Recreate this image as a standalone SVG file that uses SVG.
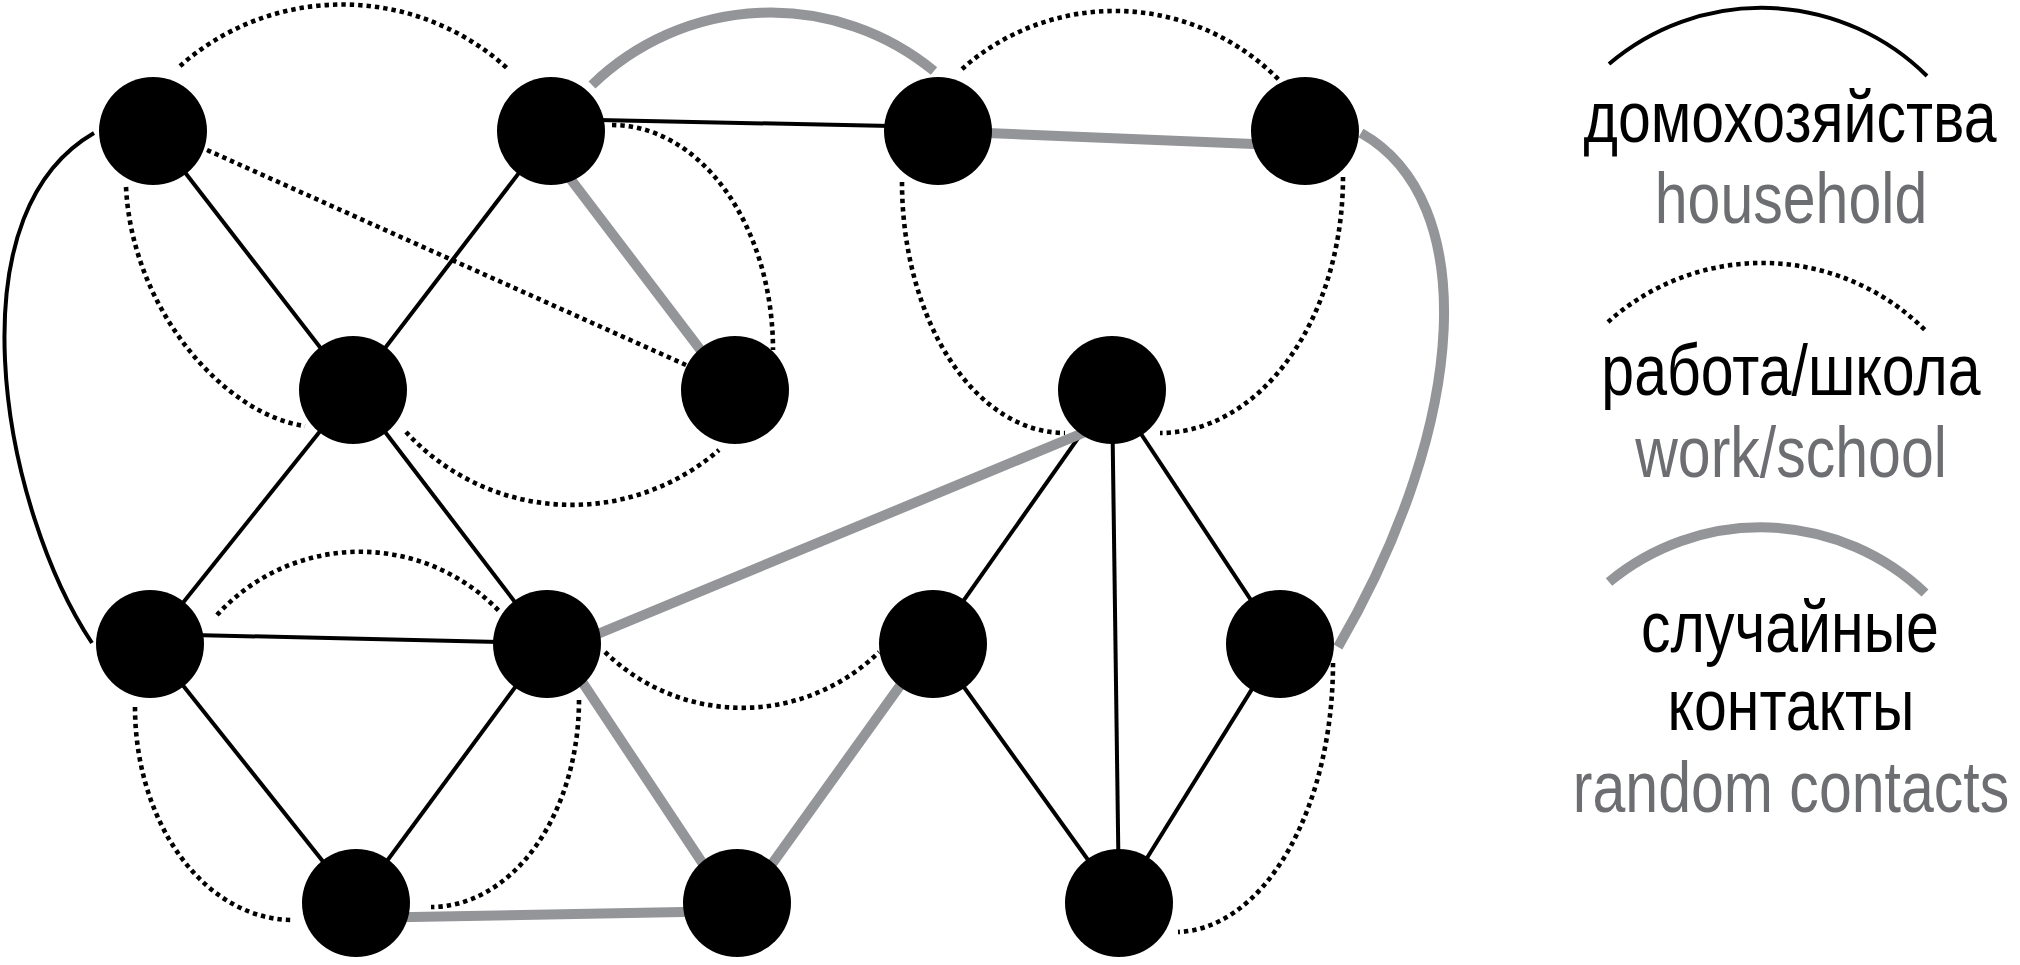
<svg xmlns="http://www.w3.org/2000/svg" width="2020" height="965" viewBox="0 0 2020 965">
<style>
.h{fill:none;stroke:#000;stroke-width:4}
.w{fill:none;stroke:#000;stroke-width:4.6;stroke-dasharray:4.4 4}
.r{fill:none;stroke:#939598;stroke-width:10}
.n{fill:#000}
.t{font-family:"Liberation Sans",Arial,sans-serif;font-size:72px;text-anchor:middle}
.k{fill:#000}
.g{fill:#6d6e71}
</style>
<rect width="2020" height="965" fill="#fff"/>
<g id="connectors">
<!-- household -->
<line class="h" x1="153" y1="131" x2="353" y2="390"/>
<line class="h" x1="551" y1="131" x2="353" y2="390"/>
<line class="h" x1="551" y1="119" x2="938" y2="127"/>
<line class="h" x1="353" y1="390" x2="150" y2="644"/>
<line class="h" x1="353" y1="390" x2="547" y2="644"/>
<line class="h" x1="150" y1="634" x2="547" y2="643"/>
<line class="h" x1="150" y1="644" x2="356" y2="903"/>
<line class="h" x1="547" y1="644" x2="356" y2="903"/>
<line class="h" x1="1112" y1="390" x2="933" y2="644"/>
<line class="h" x1="1112" y1="390" x2="1119" y2="903"/>
<line class="h" x1="1112" y1="390" x2="1280" y2="644"/>
<line class="h" x1="933" y1="644" x2="1119" y2="903"/>
<line class="h" x1="1280" y1="644" x2="1119" y2="903"/>
<path class="h" d="M94,133 C30,170 0,250 5,360 C10,470 50,580 92,643"/>
<!-- work/school -->
<path class="w" d="M180,66 A245,245 0 0 1 508,69"/>
<line class="w" x1="207" y1="150" x2="686" y2="365"/>
<path class="w" d="M126,187 C132,310 225,415 305,426"/>
<path class="w" d="M612,125 A161,225 0 0 1 773,350"/>
<path class="w" d="M406,432 A225,225 0 0 0 719,450"/>
<path class="w" d="M962,69 A230,230 0 0 1 1280,81"/>
<path class="w" d="M902,182 A163,251 0 0 0 1065,433"/>
<path class="w" d="M1343,177 A183,256 0 0 1 1160,433"/>
<path class="w" d="M217,615 A193,193 0 0 1 500,612"/>
<path class="w" d="M605,652 A196,196 0 0 0 879,652"/>
<path class="w" d="M135,707 A158,213 0 0 0 293,920"/>
<path class="w" d="M579,700 A148,207 0 0 1 431,907"/>
<path class="w" d="M1333,663 A158,269 0 0 1 1178,932"/>
<!-- random -->
<path class="r" d="M592,85 A257,257 0 0 1 934,71"/>
<line class="r" x1="938" y1="131" x2="1305" y2="146"/>
<path class="r" d="M1361,133 C1480,200 1470,420 1338,647"/>
<line class="r" x1="534" y1="131" x2="731" y2="390"/>
<line class="r" x1="547" y1="655" x2="1112" y2="421"/>
<line class="r" x1="557" y1="644" x2="729" y2="903"/>
<line class="r" x1="744" y1="903" x2="930" y2="644"/>
<line class="r" x1="356" y1="918" x2="737" y2="911"/>
</g>
<g id="node1"><circle class="n" cx="153" cy="131" r="54"/></g>
<g id="node2"><circle class="n" cx="551" cy="131" r="54"/></g>
<g id="node3"><circle class="n" cx="938" cy="131" r="54"/></g>
<g id="node4"><circle class="n" cx="1305" cy="131" r="54"/></g>
<g id="node5"><circle class="n" cx="353" cy="390" r="54"/></g>
<g id="node6"><circle class="n" cx="735" cy="390" r="54"/></g>
<g id="node7"><circle class="n" cx="1112" cy="390" r="54"/></g>
<g id="node8"><circle class="n" cx="150" cy="644" r="54"/></g>
<g id="node9"><circle class="n" cx="547" cy="644" r="54"/></g>
<g id="node10"><circle class="n" cx="933" cy="644" r="54"/></g>
<g id="node11"><circle class="n" cx="1280" cy="644" r="54"/></g>
<g id="node12"><circle class="n" cx="356" cy="903" r="54"/></g>
<g id="node13"><circle class="n" cx="737" cy="903" r="54"/></g>
<g id="node14"><circle class="n" cx="1119" cy="903" r="54"/></g>
<g id="legend">
<path class="h" d="M1609,64 A235,235 0 0 1 1927,76"/>
<text class="t k" transform="translate(1790,142) scale(0.82,1)">домохозяйства</text>
<text class="t g" transform="translate(1791,223) scale(0.82,1)">household</text>
<path class="w" d="M1608,322 A231,231 0 0 1 1927,332"/>
<text class="t k" transform="translate(1791,395) scale(0.82,1)">работа/школа</text>
<text class="t g" transform="translate(1791,477) scale(0.82,1)">work/school</text>
<path class="r" d="M1609,582 A238,238 0 0 1 1925,593"/>
<text class="t k" transform="translate(1790,652) scale(0.82,1)">случайные</text>
<text class="t k" transform="translate(1791,730) scale(0.82,1)">контакты</text>
<text class="t g" transform="translate(1791,812) scale(0.82,1)">random contacts</text>
</g>
</svg>
